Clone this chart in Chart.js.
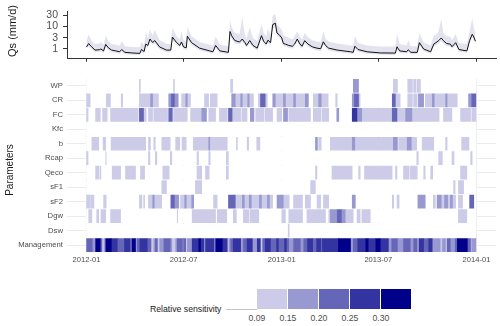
<!DOCTYPE html>
<html>
<head>
<meta charset="utf-8">
<script src="https://cdn.jsdelivr.net/npm/chart.js@4.4.1/dist/chart.umd.min.js"></script>
<style>
  body { margin: 0; background: #fff; }
  #wrap { position: relative; width: 500px; height: 326px; overflow: hidden; font-family: "Liberation Sans", Arial, sans-serif; }
  canvas { position: absolute; left: 0; }
  .vt { position: absolute; white-space: nowrap; transform: translate(-50%, -50%) rotate(-90deg); color: #1a1a1a; line-height: 1; }
  .lg { position: absolute; white-space: nowrap; line-height: 9px; font-size: 8.7px; color: #1a1a1a; }
  .lbin { position: absolute; top: 289px; height: 20px; width: 30px; }
  .ltick { position: absolute; top: 313.5px; font-size: 8.7px; line-height: 9px; color: #4d4d4d; transform: translateX(-50%); }
</style>
</head>
<body>
<div id="wrap">
  <canvas id="qsChart" width="500" height="70" style="top:0"></canvas>
  <canvas id="heatChart" width="500" height="202" style="top:70px"></canvas>
  <div class="vt" style="left:12px;top:31px;font-size:11px">Qs (mm/d)</div>
  <div class="vt" style="left:10px;top:170px;font-size:10px">Parameters</div>
  <div id="legend"></div>
</div>
<script>
// x positions are days since 2012-01-01
const xTickDays = [0, 182, 366, 547, 731];
const xTickLabels = ['2012-01', '2012-07', '2013-01', '2013-07', '2014-01'];
const qsTicks = [1, 3, 10, 30];

// simulated streamflow (median) with uncertainty band
const qsDays  = [0,4,9,16,24,27,32,36,41,47,55,62,66,72,85,100,103,108,111,115,119,124,128,137,150,158,161,169,175,178,182,187,189,197,212,231,237,242,250,266,269,272,278,287,292,297,300,306,312,320,328,332,337,340,345,349,354,357,362,366,369,373,379,386,390,395,400,404,409,415,423,432,439,444,448,454,470,495,500,503,509,526,551,579,582,587,600,603,608,620,624,632,645,651,655,660,665,669,675,682,685,692,698,713,718,723,726,729];
const qsMedian = [1.2,1.7,1.25,0.87,0.9,0.97,0.8,1.55,1.1,0.87,0.8,0.73,0.92,0.69,0.65,0.62,0.92,0.75,1.6,1.4,2.7,1.9,2.3,1.2,0.87,0.87,3.3,1.86,1.4,2.0,1.2,1.1,3.6,1.86,1.06,0.8,0.73,1.4,0.8,0.69,5.8,3.8,2.3,2.0,2.7,1.86,1.4,2.3,1.4,1.06,3.8,2.15,1.62,2.4,1.86,11.8,13.6,5.0,4.0,3.0,1.7,1.6,1.4,1.29,1.6,2.7,1.62,1.29,2.28,1.62,1.22,1.06,1.0,2.03,1.4,1.06,0.87,0.73,0.69,1.29,0.92,0.73,0.65,0.64,1.22,0.8,0.73,0.9,0.69,0.69,1.86,0.97,0.73,1.62,1.86,2.28,3.0,2.28,1.71,1.6,1.22,1.86,0.92,0.8,2.28,4.4,3.3,2.15];
const qsUpper = [2.2,4.4,2.4,1.6,1.7,2.0,1.5,3.8,2.2,1.6,1.5,1.35,2.2,1.3,1.2,1.15,2.0,1.4,5.5,3.0,7.5,3.8,7.0,2.4,1.6,1.6,8.5,3.6,2.6,6.0,2.3,2.1,9.0,3.6,2.0,1.5,1.35,3.5,1.5,1.3,18,9,5,4.5,26,4,3,9,3,2.2,12,5,3.5,8,4,30,35,12,9,7,4,3.5,3,2.6,3.5,6,3.4,2.6,5,3.2,2.4,2.1,2.0,6,2.8,2.1,1.7,1.4,1.35,3.8,1.8,1.4,1.25,1.25,4.5,1.6,1.4,2.4,1.3,1.3,5,1.9,1.4,4,4,6,21,5,3.6,3.4,2.4,4.5,1.8,1.6,6,23,8,4.5];
const qsLower = [0.95,1.3,1.0,0.7,0.72,0.75,0.65,1.2,0.88,0.7,0.65,0.6,0.72,0.57,0.54,0.52,0.72,0.6,1.2,1.1,2.0,1.5,1.7,0.95,0.7,0.7,2.4,1.45,1.1,1.5,0.95,0.88,2.6,1.45,0.84,0.65,0.6,1.1,0.65,0.57,4.2,2.8,1.7,1.5,2.0,1.4,1.1,1.7,1.1,0.84,2.8,1.6,1.25,1.8,1.4,8,9,3.6,3.0,2.2,1.3,1.25,1.1,1.0,1.25,2.0,1.25,1.0,1.7,1.25,0.96,0.84,0.8,1.55,1.1,0.84,0.7,0.6,0.57,1.0,0.74,0.6,0.54,0.53,0.95,0.65,0.6,0.72,0.57,0.57,1.4,0.78,0.6,1.25,1.4,1.7,2.2,1.7,1.3,1.25,0.96,1.4,0.74,0.65,1.7,3.2,2.5,1.6];

// sensitivity heatmap: [startDay, endDay, bin]
const paramRows = ['WP', 'CR', 'FC', 'Kfc', 'b', 'Rcap', 'Qeco', 'sF1', 'sF2', 'Dgw', 'Dsw', 'Management'];
const binColors = ['#ccccE8', '#9999D1', '#6666B9', '#3333A2', '#00008B'];
const binLabels = ['0.09', '0.15', '0.20', '0.25', '0.30'];

const segWP = [[99,101,1],[163,165,1],[270,274,1],[500,510,2],[575,583,1],[602,611,1],[613,618,1],[620,626,1]];
const segCR = [[0,7,1],[37,45,1],[65,68,1],[99,120,1],[120,124,2],[124,135,1],[154,159,2],[159,165,3],[165,172,2],[178,186,1],[186,189,2],[189,195,1],[221,229,1],[232,238,1],[238,245,1],[272,279,2],[279,289,1],[289,292,2],[292,302,1],[302,305,2],[305,313,1],[322,326,1],[326,335,3],[335,339,1],[349,354,2],[354,369,1],[369,373,2],[373,388,1],[388,392,2],[392,410,1],[410,416,2],[425,435,1],[435,440,2],[440,453,1],[467,470,1],[498,502,2],[502,510,3],[510,513,1],[573,579,3],[579,588,1],[602,611,1],[613,620,1],[622,632,2],[635,648,1],[648,652,2],[652,673,1],[673,676,2],[676,695,1],[716,722,2],[722,730,3]];
const segFC = [[0,3,1],[17,26,1],[30,39,1],[45,97,1],[99,107,3],[107,112,1],[116,124,1],[126,152,1],[154,161,3],[163,189,1],[195,216,1],[216,225,2],[229,242,1],[249,264,1],[266,273,3],[273,289,1],[291,301,1],[307,314,2],[317,333,1],[335,349,1],[357,366,1],[369,377,2],[379,420,1],[425,439,1],[441,454,1],[469,473,2],[498,507,4],[507,516,2],[516,573,1],[573,582,3],[582,598,1],[598,610,2],[610,661,1],[669,685,1],[701,720,1],[722,730,1]];
const segKfc = [];
const segB = [[10,23,1],[31,36,1],[46,111,1],[116,120,1],[126,129,1],[141,157,1],[167,175,1],[179,187,1],[200,229,1],[229,231,2],[231,264,1],[281,283,1],[301,304,1],[319,325,1],[429,433,2],[435,440,1],[457,498,1],[498,503,2],[503,575,1],[575,583,2],[585,601,1],[601,609,2],[609,619,1],[629,651,1],[673,676,1],[703,717,1]];
const segRcap = [[0,3,1],[36,37,1],[116,119,1],[129,132,1],[157,160,1],[207,210,1],[229,232,1],[262,266,1],[619,622,1],[660,667,1],[685,689,1],[720,723,1]];
const segQeco = [[17,23,1],[25,27,1],[48,64,1],[73,92,1],[101,109,1],[143,155,1],[207,216,1],[223,230,1],[262,266,1],[429,432,1],[460,498,1],[510,513,1],[521,573,1],[579,582,1],[594,605,1],[607,620,1],[632,635,1],[645,649,1],[701,713,1]];
const segSF1 = [[141,150,1],[204,216,1],[420,429,1],[688,691,1],[697,707,1]];
const segSF2 = [[0,7,1],[8,14,1],[32,37,1],[99,104,1],[107,109,1],[116,124,1],[124,127,2],[127,141,1],[158,165,3],[165,173,2],[176,184,1],[184,187,2],[187,197,1],[197,201,2],[238,245,1],[266,279,3],[279,292,1],[292,296,2],[296,305,1],[305,309,2],[309,324,1],[324,328,2],[328,339,1],[339,343,2],[343,349,1],[357,369,2],[369,380,1],[388,405,1],[410,420,1],[432,439,1],[444,454,1],[498,504,2],[573,576,1],[582,586,1],[621,635,2],[650,654,1],[657,665,2],[665,671,1],[671,677,2],[677,682,1],[682,686,2],[686,692,1],[697,705,1],[718,726,3]];
const segDgw = [[4,10,1],[19,23,1],[27,36,1],[45,64,1],[170,171,1],[198,242,1],[245,263,1],[275,281,1],[294,305,1],[307,323,1],[366,373,1],[379,405,1],[413,439,1],[440,448,1],[454,457,1],[457,470,2],[470,478,3],[478,485,2],[485,500,1],[507,513,1],[516,532,1],[697,713,1]];
const segDsw = [[378,380,1]];
const segMgmt = [[0,11,3],[11,17,2],[17,26,5],[26,29,3],[29,33,1],[33,36,2],[36,47,5],[47,58,4],[58,71,3],[71,82,4],[82,85,2],[85,92,5],[92,95,2],[95,100,3],[100,114,4],[114,121,3],[121,126,1],[126,129,2],[129,133,3],[133,137,1],[137,145,2],[145,157,3],[157,160,2],[160,167,1],[167,170,2],[170,180,3],[180,182,2],[182,186,3],[186,189,1],[189,198,2],[198,210,4],[210,214,5],[214,220,4],[220,223,2],[223,239,4],[239,242,2],[242,255,5],[255,264,4],[264,267,1],[267,270,2],[270,275,3],[275,289,4],[289,294,2],[294,301,3],[301,311,4],[311,320,2],[320,326,4],[326,330,1],[330,335,3],[335,345,4],[345,356,3],[356,360,4],[360,371,3],[371,375,4],[375,379,3],[379,388,2],[388,401,3],[401,407,2],[407,414,3],[414,424,4],[424,431,3],[431,439,4],[439,442,3],[442,472,4],[472,495,5],[495,500,2],[500,508,3],[508,523,4],[523,528,5],[528,542,4],[542,551,5],[551,566,4],[566,572,2],[572,583,3],[583,594,2],[594,607,3],[607,613,2],[613,620,3],[620,623,1],[623,632,4],[632,641,3],[641,648,4],[648,663,2],[663,667,1],[667,673,2],[673,676,1],[676,682,3],[682,691,2],[691,695,3],[695,714,5],[714,720,3],[720,722,1],[722,730,2]];

const segsByRow = [segWP, segCR, segFC, segKfc, segB, segRcap, segQeco, segSF1, segSF2, segDgw, segDsw, segMgmt];

Chart.defaults.font.family = '"Liberation Sans", Arial, sans-serif';
Chart.defaults.animation = false;

const X_MIN = -36.55;
const X_MAX = 767.55;
const setXTicks = scale => { scale.ticks = xTickDays.map(v => ({value: v})); };

// top panel: Qs
new Chart(document.getElementById('qsChart'), {
    type: 'line',
    data: {
        datasets: [
            {
                data: qsDays.map((d, i) => ({x: d, y: qsMedian[i]})),
                borderColor: '#111',
                borderWidth: 1,
                pointRadius: 0,
                fill: false
            },
            {
                data: qsDays.map((d, i) => ({x: d, y: qsLower[i]})),
                borderWidth: 0,
                pointRadius: 0,
                fill: false
            },
            {
                data: qsDays.map((d, i) => ({x: d, y: qsUpper[i]})),
                borderWidth: 0,
                pointRadius: 0,
                fill: '-1',
                backgroundColor: 'rgba(200,200,226,0.5)'
            }
        ]
    },
    options: {
        responsive: false,
        layout: { padding: { left: 0, right: 4, top: 9, bottom: 0 } },
        plugins: { legend: { display: false }, tooltip: { enabled: false } },
        scales: {
            x: {
                type: 'linear', min: X_MIN, max: X_MAX,
                afterBuildTicks: setXTicks,
                afterFit: s => { s.height = 4; },
                ticks: { callback: () => '', padding: 0 },
                grid: { drawOnChartArea: false, drawTicks: true, tickLength: 3, color: '#333' },
                border: { display: true, color: '#333', width: 1 }
            },
            y: {
                type: 'logarithmic', min: 0.36, max: 46,
                afterBuildTicks: s => { s.ticks = qsTicks.map(v => ({value: v})); },
                afterFit: s => { s.width = 67; },
                ticks: { callback: v => String(v), color: '#4d4d4d', font: { size: 10.5 }, padding: 5 },
                grid: { drawOnChartArea: false, drawTicks: true, tickLength: 4, color: '#333' },
                border: { display: true, color: '#333', width: 1 }
            }
        }
    }
});

// bottom panel: sensitivity heatmap as floating bars
const binDatasets = binColors.map(c => ({
    data: [],
    backgroundColor: c,
    borderWidth: 0,
    grouped: false,
    barPercentage: 1,
    categoryPercentage: 0.95
}));
paramRows.forEach((row, ri) => {
    segsByRow[ri].forEach(([s, e, bin]) => {
        binDatasets[bin - 1].data.push({x: [s - 0.5, e + 0.5], y: row});
    });
});
const blankDataset = {
    data: paramRows.map(row => ({x: [-0.5, 730.5], y: row})),
    backgroundColor: '#ffffff',
    borderWidth: 0,
    grouped: false,
    barPercentage: 1,
    categoryPercentage: 0.95
};

new Chart(document.getElementById('heatChart'), {
    type: 'bar',
    data: {
        labels: paramRows,
        datasets: [...binDatasets.slice().reverse(), blankDataset]
    },
    options: {
        indexAxis: 'y',
        responsive: false,
        layout: { padding: { left: 0, right: 4, top: 7.7, bottom: 0 } },
        plugins: { legend: { display: false }, tooltip: { enabled: false } },
        scales: {
            x: {
                type: 'linear', min: X_MIN, max: X_MAX,
                afterBuildTicks: setXTicks,
                afterFit: s => { s.height = 19.7; },
                ticks: {
                    callback: v => xTickLabels[xTickDays.indexOf(v)],
                    color: '#4d4d4d', font: { size: 7.6 }, padding: 3, maxRotation: 0
                },
                grid: { color: '#ebebeb', lineWidth: 1, drawTicks: false },
                border: { display: false }
            },
            y: {
                type: 'category',
                afterFit: s => { s.width = 67; },
                ticks: { color: '#4d4d4d', font: { size: 7.7 }, padding: 4 },
                grid: { color: '#ebebeb', lineWidth: 1, drawTicks: false, offset: false },
                border: { display: false }
            }
        }
    }
});

// legend (binned colour bar)
const legend = document.getElementById('legend');
let html = '<div class="lg" style="left:150px;top:305px">Relative sensitivity</div>';
html += '<div style="position:absolute;left:226px;top:309px;width:31px;height:1px;background:#c6c6c6"></div>';
binColors.forEach((c, i) => {
    html += `<div class="lbin" style="left:${257 + 31 * i}px;background:${c}"></div>`;
});
binLabels.forEach((t, i) => {
    html += `<div class="ltick" style="left:${257 + 31 * i}px">${t}</div>`;
});
legend.innerHTML = html;
</script>
</body>
</html>
